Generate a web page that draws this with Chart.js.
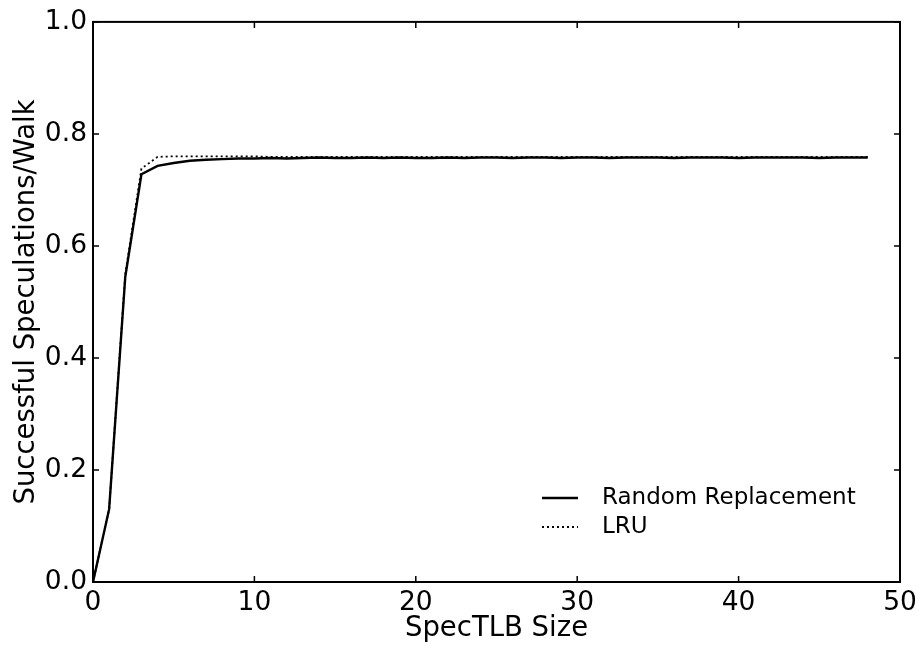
<!DOCTYPE html>
<html>
<head>
<meta charset="utf-8">
<script src="https://cdn.jsdelivr.net/npm/chart.js@4/dist/chart.umd.min.js"></script>
<style>
  html, body { margin: 0; padding: 0; background: #fff; }
  #wrap { width: 924px; height: 652px; }
</style>
</head>
<body>
<div id="wrap"><canvas id="chart"></canvas></div>
<script>
// SpecTLB size vs successful speculations per walk
const sizes = [];
for (let i = 0; i <= 48; i++) sizes.push(i);

const randomReplacement = [
  0.0, 0.13, 0.545, 0.728, 0.743, 0.748, 0.752, 0.754, 0.755, 0.756,
  0.756, 0.757, 0.756, 0.757, 0.758, 0.757, 0.757, 0.758, 0.757, 0.758,
  0.757, 0.757, 0.758, 0.757, 0.758, 0.758, 0.757, 0.758, 0.758, 0.757,
  0.758, 0.758, 0.757, 0.758, 0.758, 0.758, 0.757, 0.758, 0.758, 0.758,
  0.757, 0.758, 0.758, 0.758, 0.758, 0.757, 0.758, 0.758, 0.758
];
const lru = [
  0.0, 0.13, 0.55, 0.738, 0.759, 0.76, 0.76, 0.76, 0.76, 0.76,
  0.76, 0.759, 0.759, 0.759, 0.759, 0.759, 0.759, 0.759, 0.759, 0.759,
  0.759, 0.759, 0.759, 0.759, 0.759, 0.759, 0.759, 0.759, 0.759, 0.759,
  0.759, 0.759, 0.759, 0.759, 0.759, 0.759, 0.759, 0.759, 0.759, 0.759,
  0.759, 0.759, 0.759, 0.759, 0.759, 0.759, 0.759, 0.759, 0.759
];
const xTicks = [0, 10, 20, 30, 40, 50];
const yTicks = [0.0, 0.2, 0.4, 0.6, 0.8, 1.0];

const FONT = "'DejaVu Sans', sans-serif";

const toPoints = (ys) => ys.map((y, i) => ({ x: sizes[i], y: y }));

// box around the plot with inward tick marks, like matplotlib
const frameTicks = {
  id: 'frameTicks',
  afterDatasetsDraw(chart) {
    const { ctx, chartArea: a, scales } = chart;
    ctx.save();
    ctx.strokeStyle = '#000';
    ctx.lineWidth = 1.5;
    xTicks.forEach((v) => {
      const px = scales.x.getPixelForValue(v);
      ctx.beginPath();
      ctx.moveTo(px, a.bottom); ctx.lineTo(px, a.bottom - 6);
      ctx.moveTo(px, a.top); ctx.lineTo(px, a.top + 6);
      ctx.stroke();
    });
    yTicks.forEach((v) => {
      const py = scales.y.getPixelForValue(v);
      ctx.beginPath();
      ctx.moveTo(a.left, py); ctx.lineTo(a.left + 6, py);
      ctx.moveTo(a.right, py); ctx.lineTo(a.right - 6, py);
      ctx.stroke();
    });
    ctx.lineWidth = 2;
    ctx.strokeRect(a.left, a.top, a.right - a.left, a.bottom - a.top);
    ctx.restore();
  }
};

// frameless legend in the lower right of the plot
const cornerLegend = {
  id: 'cornerLegend',
  afterDraw(chart) {
    const { ctx, chartArea: a } = chart;
    ctx.save();
    ctx.font = '23px ' + FONT;
    ctx.fillStyle = '#000';
    ctx.textBaseline = 'middle';
    chart.data.datasets.forEach((ds, i) => {
      const y = a.bottom - 84 + i * 29;
      const x0 = a.right - 358;
      ctx.beginPath();
      ctx.strokeStyle = ds.borderColor;
      ctx.lineWidth = ds.borderWidth;
      ctx.setLineDash(ds.borderDash || []);
      ctx.moveTo(x0, y); ctx.lineTo(x0 + 36, y);
      ctx.stroke();
      ctx.setLineDash([]);
      ctx.fillText(ds.label, x0 + 60, y);
    });
    ctx.restore();
  }
};

new Chart(document.getElementById('chart'), {
  type: 'line',
  data: {
    datasets: [
      {
        label: 'Random Replacement',
        data: toPoints(randomReplacement),
        borderColor: '#000',
        borderWidth: 2.4,
        pointRadius: 0,
        tension: 0,
        fill: false
      },
      {
        label: 'LRU',
        data: toPoints(lru),
        borderColor: '#000',
        borderWidth: 1.8,
        borderDash: [2, 3],
        pointRadius: 0,
        tension: 0,
        fill: false
      }
    ]
  },
  options: {
    responsive: true,
    maintainAspectRatio: false,
    animation: false,
    layout: { padding: { top: 20, right: 24, left: 0, bottom: 0 } },
    plugins: {
      legend: { display: false },
      tooltip: { enabled: false }
    },
    scales: {
      x: {
        type: 'linear',
        min: 0,
        max: 50,
        afterBuildTicks: (s) => { s.ticks = xTicks.map((v) => ({ value: v })); },
        afterFit: (s) => { s.height = 70; },
        grid: { display: false, drawTicks: false },
        border: { display: false },
        ticks: { color: '#000', font: { family: FONT, size: 26.5 }, padding: 5, maxRotation: 0 },
        title: {
          display: true,
          text: 'SpecTLB Size',
          color: '#000',
          font: { family: FONT, size: 27.5 },
          padding: { top: 0, bottom: 7 }
        }
      },
      y: {
        min: 0,
        max: 1,
        afterBuildTicks: (s) => { s.ticks = yTicks.map((v) => ({ value: v })); },
        afterFit: (s) => { s.width = 93; },
        grid: { display: false, drawTicks: false },
        border: { display: false },
        ticks: {
          color: '#000',
          font: { family: FONT, size: 26.5 },
          padding: 6,
          callback: (v) => Number(v).toFixed(1)
        },
        title: {
          display: true,
          text: 'Successful Speculations/Walk',
          color: '#000',
          font: { family: FONT, size: 27.5 },
          padding: { top: 10, bottom: 0 }
        }
      }
    }
  },
  plugins: [frameTicks, cornerLegend]
});
</script>
</body>
</html>
